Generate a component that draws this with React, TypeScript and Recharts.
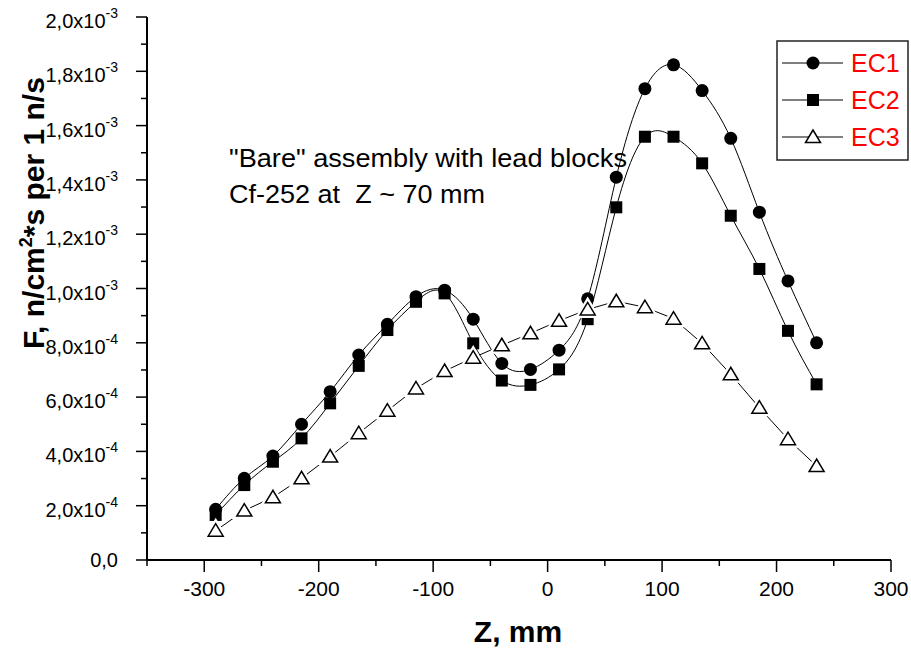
import React from 'react';
import { LineChart, Line, XAxis, YAxis, Legend } from 'recharts';

const zValues = [-290, -265, -240, -215, -190, -165, -140, -115, -90, -65, -40, -15, 10, 35, 60, 85, 110, 135, 160, 185, 210, 235];
const ec1 = [1.87e-4, 3.01e-4, 3.83e-4, 5.0e-4, 6.2e-4, 7.55e-4, 8.68e-4, 9.7e-4, 9.94e-4, 8.87e-4, 7.24e-4, 7.02e-4, 7.73e-4, 9.62e-4, 1.41e-3, 1.736e-3, 1.824e-3, 1.729e-3, 1.553e-3, 1.281e-3, 1.028e-3, 8.0e-4];
const ec2 = [1.66e-4, 2.76e-4, 3.62e-4, 4.48e-4, 5.77e-4, 7.15e-4, 8.47e-4, 9.51e-4, 9.82e-4, 7.98e-4, 6.61e-4, 6.45e-4, 7.02e-4, 8.87e-4, 1.299e-3, 1.559e-3, 1.559e-3, 1.461e-3, 1.268e-3, 1.072e-3, 8.44e-4, 6.47e-4];
const ec3 = [1.08e-4, 1.82e-4, 2.31e-4, 3.01e-4, 3.81e-4, 4.67e-4, 5.5e-4, 6.32e-4, 6.96e-4, 7.45e-4, 7.91e-4, 8.35e-4, 8.81e-4, 9.23e-4, 9.53e-4, 9.31e-4, 8.89e-4, 7.98e-4, 6.84e-4, 5.61e-4, 4.45e-4, 3.46e-4];

// every 50 mm, labels only on the hundreds
const xTicks = [-350, -300, -250, -200, -150, -100, -50, 0, 50, 100, 150, 200, 250, 300];
// every 1e-4, labels only on the even ones
const yTicks = [0, 1e-4, 2e-4, 3e-4, 4e-4, 5e-4, 6e-4, 7e-4, 8e-4, 9e-4, 1e-3, 1.1e-3, 1.2e-3, 1.3e-3, 1.4e-3, 1.5e-3, 1.6e-3, 1.7e-3, 1.8e-3, 1.9e-3, 2e-3];

const seriesNames = ['EC1', 'EC2', 'EC3'];

const data = zValues.map((z, i) => ({ z, ec1: ec1[i], ec2: ec2[i], ec3: ec3[i] }));

const FONT = '"Liberation Sans", Arial, sans-serif';

const XTick = (props: any) => {
  const { x, y, payload } = props;
  const major = Math.round(payload.value) % 100 === 0;
  return (
    <g>
      <line x1={x} x2={x} y1={y} y2={y + (major ? 12 : 6)} stroke="#000" strokeWidth={1.5} />
      {major && (
        <text x={x} y={y + 36} textAnchor="middle" fontSize={21} fontFamily={FONT} fill="#000">
          {payload.value}
        </text>
      )}
    </g>
  );
};

const YTick = (props: any) => {
  const { x, y, payload, index } = props;
  const major = index % 2 === 0;
  const v = payload.value;
  let label: React.ReactNode = null;
  if (major) {
    if (v === 0) {
      label = (
        <text x={x - 29} y={y + 7} textAnchor="end" fontSize={20} fontFamily={FONT} fill="#000">
          0,0
        </text>
      );
    } else {
      const exp = Math.floor(Math.log10(v) + 1e-9);
      const mant = (v / Math.pow(10, exp)).toFixed(1).replace('.', ',');
      label = (
        <text x={x - 29} y={y + 11} textAnchor="end" fontSize={20} fontFamily={FONT} fill="#000">
          {mant}x10
          <tspan dy={-10} fontSize={14}>{exp}</tspan>
        </text>
      );
    }
  }
  return (
    <g>
      <line x1={x - (major ? 11 : 6)} x2={x} y1={y} y2={y} stroke="#000" strokeWidth={1.5} />
      {label}
    </g>
  );
};

const Square = (props: any) => {
  const { cx, cy, key } = props;
  return <rect key={key} x={cx - 6} y={cy - 6} width={12} height={12} fill="#000" />;
};

const triPoints = (cx: number, cy: number) => `${cx},${cy - 7} ${cx - 7.5},${cy + 5.5} ${cx + 7.5},${cy + 5.5}`;

const Triangle = (props: any) => {
  const { cx, cy, key } = props;
  return (
    <g key={key}>
      <polygon points={triPoints(cx, cy)} fill="#fff" stroke="#fff" strokeWidth={6} />
      <polygon points={triPoints(cx, cy)} fill="#fff" stroke="#000" strokeWidth={1.5} />
    </g>
  );
};

const LegendBox = () => {
  const rows = [64, 101, 138].map((y) => y - 41);
  return (
    <svg width={133} height={121} style={{ display: 'block' }}>
      <rect x={1} y={1} width={131} height={119} fill="#fff" stroke="#222" strokeWidth={1.5} />
      {seriesNames.map((name, i) => {
        const y = rows[i];
        return (
          <g key={name}>
            <line x1={6} x2={67} y1={y} y2={y} stroke="#000" strokeWidth={1} />
            {i === 0 && <circle cx={37} cy={y} r={6.5} fill="#000" />}
            {i === 1 && <rect x={31} y={y - 6} width={12} height={12} fill="#000" />}
            {i === 2 && (
              <polygon points={triPoints(37, y)} fill="#fff" stroke="#000" strokeWidth={1.5} />
            )}
            <text x={75} y={y + 9} fontSize={25} fontFamily={FONT} fill="#ff0000">
              {name}
            </text>
          </g>
        );
      })}
    </svg>
  );
};

export default function App() {
  return (
    <div style={{ position: 'absolute', left: 0, top: 0, width: 911, height: 649, background: '#fff' }}>
      <LineChart width={911} height={649} data={data} margin={{ top: 17, right: 20, left: 0, bottom: 0 }}>
        <XAxis
          type="number"
          dataKey="z"
          domain={[-350, 300]}
          ticks={xTicks}
          interval={0}
          height={89}
          tickSize={0}
          tickMargin={0}
          tickLine={false}
          axisLine={{ stroke: '#000', strokeWidth: 2 }}
          tick={<XTick />}
        />
        <YAxis
          type="number"
          domain={[0, 0.002]}
          ticks={yTicks}
          interval={0}
          width={147}
          tickSize={0}
          tickMargin={0}
          tickLine={false}
          axisLine={{ stroke: '#000', strokeWidth: 2 }}
          tick={<YTick />}
        />
        <Legend
          layout="horizontal"
          verticalAlign="middle"
          align="center"
          wrapperStyle={{ left: 776, top: 40, width: 133, height: 121 }}
          content={() => <LegendBox />}
        />
        <Line
          type="natural"
          dataKey="ec1"
          name="EC1"
          stroke="#000"
          strokeWidth={1}
          dot={{ r: 6.5, fill: '#000', stroke: '#000', strokeWidth: 0 }}
          activeDot={false}
          isAnimationActive={false}
        />
        <Line
          type="natural"
          dataKey="ec2"
          name="EC2"
          stroke="#000"
          strokeWidth={1}
          dot={Square}
          activeDot={false}
          isAnimationActive={false}
        />
        <Line
          type="linear"
          dataKey="ec3"
          name="EC3"
          stroke="#000"
          strokeWidth={1}
          dot={Triangle}
          activeDot={false}
          isAnimationActive={false}
        />
        <text x={229} y={167} fontSize={25} fontFamily={FONT} fill="#000" textLength={398} lengthAdjust="spacingAndGlyphs">
          "Bare" assembly with lead blocks
        </text>
        <text
          x={229}
          y={203}
          fontSize={25}
          fontFamily={FONT}
          fill="#000"
          textLength={256}
          lengthAdjust="spacingAndGlyphs"
          style={{ whiteSpace: 'pre' }}
        >
          {'Cf-252 at  Z ~ 70 mm'}
        </text>
        <text
          x={44}
          y={213}
          transform="rotate(-90, 44, 213)"
          textAnchor="middle"
          fontSize={30}
          fontWeight="bold"
          fontFamily={FONT}
          fill="#000"
        >
          F, n/cm
          <tspan dy={-12} fontSize={18}>2</tspan>
          <tspan dy={12}>*s per 1 n/s</tspan>
        </text>
        <text x={518} y={642} textAnchor="middle" fontSize={30} fontWeight="bold" fontFamily={FONT} fill="#000">
          Z, mm
        </text>
      </LineChart>
    </div>
  );
}
